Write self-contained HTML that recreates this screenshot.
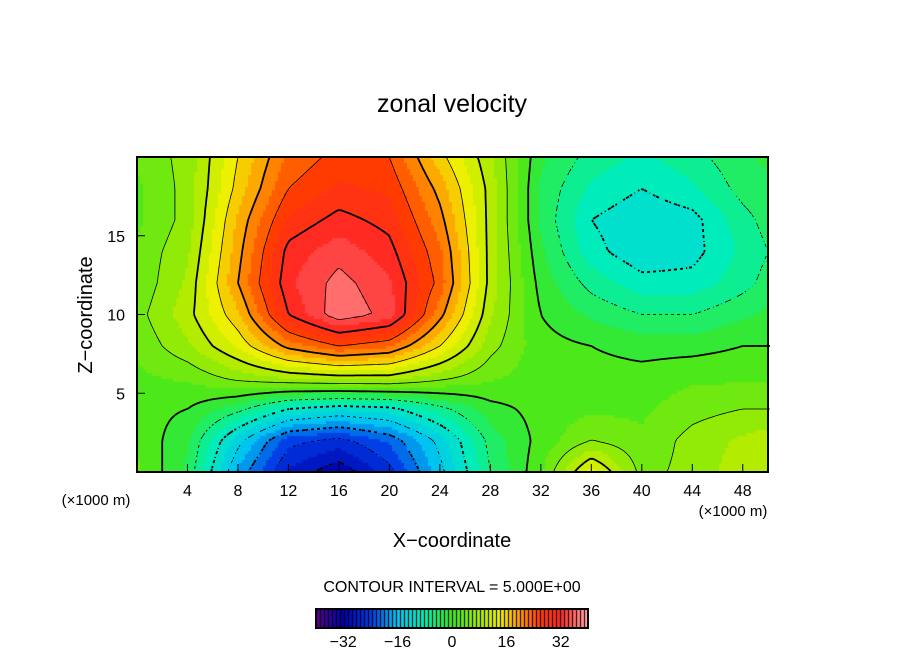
<!DOCTYPE html>
<html><head><meta charset="utf-8"><style>
body{margin:0;background:#fff;width:904px;height:654px;overflow:hidden;font-family:"Liberation Sans",sans-serif}
svg{position:absolute;left:0;top:0}
#cv{position:absolute;left:137px;top:157px}
#cb{position:absolute;left:316px;top:609px}
</style></head><body>
<canvas id="cv" width="631" height="315"></canvas>
<canvas id="cb" width="272" height="19"></canvas>
<svg id="s" width="904" height="654" font-family="Liberation Sans, sans-serif">
<text x="452" y="112" font-size="25" text-anchor="middle">zonal velocity</text>
<text x="452" y="547" font-size="20" text-anchor="middle">X−coordinate</text>
<text transform="translate(92,315) rotate(-90)" font-size="20" text-anchor="middle">Z−coordinate</text>
<text x="96" y="505" font-size="15" text-anchor="middle">(×1000 m)</text>
<text x="733" y="516" font-size="15" text-anchor="middle">(×1000 m)</text>
<text x="452" y="592" font-size="16" text-anchor="middle">CONTOUR INTERVAL = 5.000E+00</text>
<rect x="316" y="609" width="272" height="19" fill="none" stroke="#000" stroke-width="2"/>
<g id="g"></g>
</svg>
<script>
const xs=[0,4,8,12,16,20,24,28,32,36,40,44,48,50];
const zs=[20,18,16,14,12,10,8,6,4,2,0];
const vals=[
[3,6,15,23,26,25,16,8,-2,-6,-8,-6,-3,-2],
[2,6,16,25,28,27,19,9,-3,-8,-10,-8,-4,-3],
[2,6,18,28,31,29,21,9,-3,-10,-12,-11,-6,-4],
[3,7,19,31,34,31,23,9,-2,-9,-12,-11,-7,-5],
[3,8,20,32,36,33,24,9,-1,-6,-9,-9,-6,-4],
[4,9,17,30,37,34,21,8,0,-3,-5,-5,-3,-2],
[3,7,13,21,25,23,15,6,1,0,-1,-1,0,0],
[2,3,6,8,9,9,6,3,1,1,1,2,2,2],
[1,0,-4,-10,-12,-11,-6,-1,1,2,2,4,5,5],
[2,-2,-14,-24,-26,-22,-14,-4,1,5,3,6,8,9],
[3,-3,-18,-28,-32,-26,-16,-5,2,14,4,6,9,10]];
const xTicks=[4,8,12,16,20,24,28,32,36,40,44,48];
const zTicks=[5,10,15];
const cbTicks=[-32,-16,0,16,32];
const X0=137,X1=768,Y0=157,Y1=472;
const sx=v=>X0+(v-0)/50*(X1-X0), sz=v=>Y1-(v/20)*(Y1-Y0);
const stops=[[-40,[90,0,140]],[-32,[0,0,170]],[-24,[0,60,230]],[-16,[0,200,240]],[-8,[0,240,180]],[0,[60,232,30]],[8,[170,235,0]],[14,[240,240,0]],[20,[255,150,0]],[26,[255,60,0]],[32,[255,40,40]],[40,[255,170,170]]];
function col(v){v=Math.max(-40,Math.min(40,v));for(let i=0;i<stops.length-1;i++){const a=stops[i],b=stops[i+1];if(v<=b[0]){const t=(v-a[0])/(b[0]-a[0]);return a[1].map((c,k)=>Math.round(c+(b[1][k]-c)*t));}}return stops[stops.length-1][1];}
function interp(arr,v){let i=0;while(i<arr.length-2&&v>arr[i+1])i++;return [i,(v-arr[i])/(arr[i+1]-arr[i])];}
const zAsc=zs.slice().reverse(), valsAsc=vals.slice().reverse();
function field(x,z){const[i,tx]=interp(xs,x),[j,tz]=interp(zAsc,z);const a=valsAsc[j][i],b=valsAsc[j][i+1],c=valsAsc[j+1][i],d=valsAsc[j+1][i+1];return (a*(1-tx)+b*tx)*(1-tz)+(c*(1-tx)+d*tx)*tz;}
const cv=document.getElementById('cv').getContext('2d');
const S=3,NX=Math.ceil(631/S),NZ=Math.ceil(315/S);
const F=[];
for(let j=0;j<=NZ;j++){F.push([]);for(let i=0;i<=NX;i++){F[j].push(field(Math.min(50,i*S/631*50),Math.max(0,20-j*S/315*20)));}}
for(let j=0;j<NZ;j++)for(let i=0;i<NX;i++){const v=Math.floor((F[j][i]+F[j][i+1]+F[j+1][i]+F[j+1][i+1])/4/2.5)*2.5+1.25;const c=col(v);cv.fillStyle=`rgb(${c})`;cv.fillRect(i*S,j*S,S,S);}
const cb=document.getElementById('cb').getContext('2d');
for(let p=0;p<272;p++){const v=-40+p/272*80;const c=col(v);cb.fillStyle=(p%4==0)?'rgb(0,0,0)':`rgb(${c})`;cb.fillRect(p,0,1,19);}
const g=document.getElementById('g'),NS='http://www.w3.org/2000/svg';
function mk(t,a,txt){const e=document.createElementNS(NS,t);for(const k in a)e.setAttribute(k,a[k]);if(txt!==undefined)e.textContent=txt;g.appendChild(e);return e;}
for(let L=-30;L<=35;L+=5){let d='';
for(let j=0;j<NZ;j++)for(let i=0;i<NX;i++){if((i+j)%2==1&&L<0)continue;const v=[F[j][i],F[j][i+1],F[j+1][i+1],F[j+1][i]];const p=[[i,j],[i+1,j],[i+1,j+1],[i,j+1]];const pts=[];
for(let k=0;k<4;k++){const a=v[k],b=v[(k+1)%4];if((a<L)!=(b<L)){const t=(L-a)/(b-a);const pa=p[k],pb=p[(k+1)%4];pts.push([X0+(pa[0]+(pb[0]-pa[0])*t)*S,Y0+(pa[1]+(pb[1]-pa[1])*t)*S]);}}
for(let k=0;k+1<pts.length;k+=2)d+=`M${pts[k][0].toFixed(1)} ${pts[k][1].toFixed(1)}L${pts[k+1][0].toFixed(1)} ${pts[k+1][1].toFixed(1)}`;}
const e=mk('path',{d:d,fill:'none',stroke:'#000','stroke-width':L%10==0?1.8:0.8});

}
const fr=mk('rect',{x:X0,y:Y0,width:X1-X0,height:Y1-Y0,fill:'none',stroke:'#000','stroke-width':2});


xTicks.forEach(t=>{const l=mk('line',{x1:sx(t),x2:sx(t),y1:Y1,y2:Y1-8,stroke:'#000'});


const e=mk('text',{x:sx(t),y:Y1+24,'font-size':16,'text-anchor':'middle'},t);

});
zTicks.forEach(t=>{const l=mk('line',{x1:X0,x2:X0+8,y1:sz(t),y2:sz(t),stroke:'#000'});


const e=mk('text',{x:X0-12,y:sz(t)+6,'font-size':16,'text-anchor':'end'},t);

});
cbTicks.forEach(t=>{const e=mk('text',{x:316+(t+40)/80*272,y:647,'font-size':16,'text-anchor':'middle'},t<0?'−'+(-t):t);

});
</script>
</body></html>
